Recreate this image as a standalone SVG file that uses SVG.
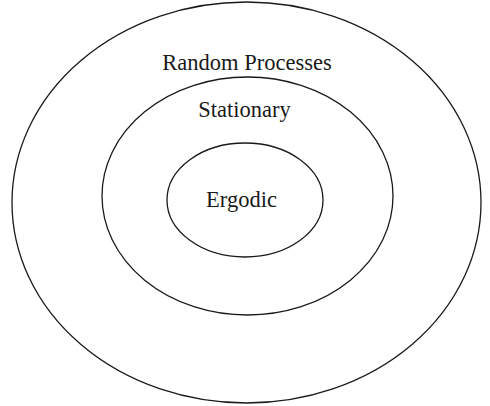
<svg xmlns="http://www.w3.org/2000/svg" width="490" height="406" viewBox="0 0 490 406">
<style>
.e{fill:none;stroke:#1a1a1a;stroke-width:1.3}
.t{font-family:"Liberation Serif","Times New Roman",serif;font-size:22.5px;fill:#1a1a1a;text-anchor:middle}
</style>
<rect width="490" height="406" fill="#fff"/>
<g id="random-processes">
<ellipse class="e" cx="246.5" cy="202.5" rx="234.5" ry="200.5"/>
<text class="t" x="247" y="70">Random Processes</text>
</g>
<g id="stationary">
<ellipse class="e" cx="247.5" cy="196" rx="145.5" ry="119"/>
<text class="t" x="244.5" y="117">Stationary</text>
</g>
<g id="ergodic">
<ellipse class="e" cx="245" cy="200" rx="78" ry="57"/>
<text class="t" x="241.5" y="207">Ergodic</text>
</g>
<g id="connectors"/>
</svg>
